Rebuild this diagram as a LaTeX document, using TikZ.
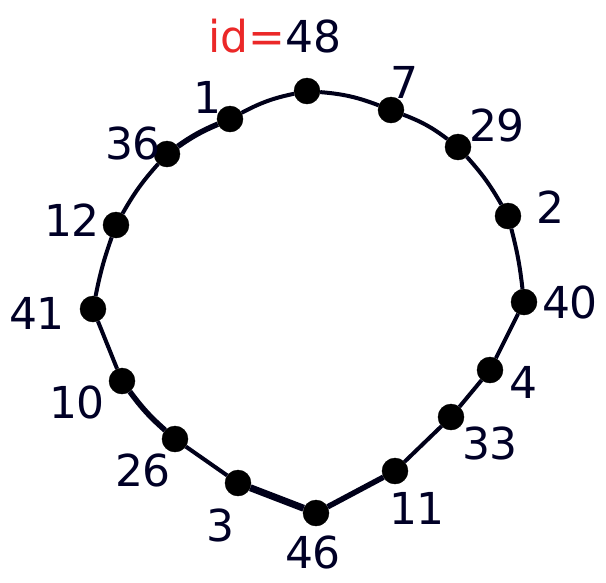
\documentclass[tikz,border=0pt]{standalone}
\usepackage{fontspec}
\setmainfont{DejaVu Sans}
\definecolor{idred}{RGB}{235,40,40}
\begin{document}
\begin{tikzpicture}[x=1pt,y=-1pt,
  dot/.style={circle,fill=black,draw=black,minimum size=26pt,inner sep=0pt},
  lbl/.style={font=\fontsize{44}{48}\selectfont,text=black!85!blue,inner sep=0pt},
  edge/.style={line width=4pt,black!90!blue}]
\useasboundingbox (0,0) rectangle (606,582);
\node[dot] (n48) at (307,91) {};
\node[dot] (n7) at (391,110) {};
\node[dot] (n29) at (458,147) {};
\node[dot] (n2) at (508,216) {};
\node[dot] (n40) at (524,302) {};
\node[dot] (n4) at (490,370) {};
\node[dot] (n33) at (451,417) {};
\node[dot] (n11) at (395,471) {};
\node[dot] (n46) at (316,513) {};
\node[dot] (n3) at (238,483) {};
\node[dot] (n26) at (175,439) {};
\node[dot] (n10) at (122,381) {};
\node[dot] (n41) at (93,309) {};
\node[dot] (n12) at (116,225) {};
\node[dot] (n36) at (167,154) {};
\node[dot] (n1) at (230,119) {};
\draw[edge] (n48) to[bend left=8] (n7);
\draw[edge] (n7) to[bend left=8] (n29);
\draw[edge] (n29) to[bend left=6] (n2);
\draw[edge] (n2) to[bend left=4] (n40);
\draw[edge] (n40) -- (n4);
\draw[edge] (n4) -- (n33);
\draw[edge] (n33) -- (n11);
\draw[edge,line width=5.5pt] (n11) -- (n46);
\draw[edge,line width=7pt] (n46) -- (n3);
\draw[edge] (n3) -- (n26);
\draw[edge,line width=5.5pt] (n26) to[bend left=6] (n10);
\draw[edge] (n10) -- (n41);
\draw[edge] (n41) to[bend left=4] (n12);
\draw[edge] (n12) to[bend left=6] (n36);
\draw[edge,line width=5.5pt] (n36) to[bend left=6] (n1);
\draw[edge] (n1) to[bend left=8] (n48);
\node[lbl] (t1) at (207,97) {1};
\node[lbl] (t7) at (404,82) {7};
\node[lbl] (t29) at (497,125) {29};
\node[lbl] (t2) at (550,207) {2};
\node[lbl] (t40) at (570,302) {40};
\node[lbl] (t4) at (523,382) {4};
\node[lbl] (t33) at (490,443) {33};
\node[lbl] (t11) at (417,508) {11};
\node[lbl] (t46) at (313,552) {46};
\node[lbl] (t3) at (220,525) {3};
\node[lbl] (t26) at (143,470) {26};
\node[lbl] (t10) at (77,402) {10};
\node[lbl] (t41) at (37,313) {41};
\node[lbl] (t12) at (72,220) {12};
\node[lbl] (t36) at (133,143) {36};
\node[lbl] (tid) at (275,36) {\textcolor{idred}{id=}48};
\end{tikzpicture}
\end{document}
